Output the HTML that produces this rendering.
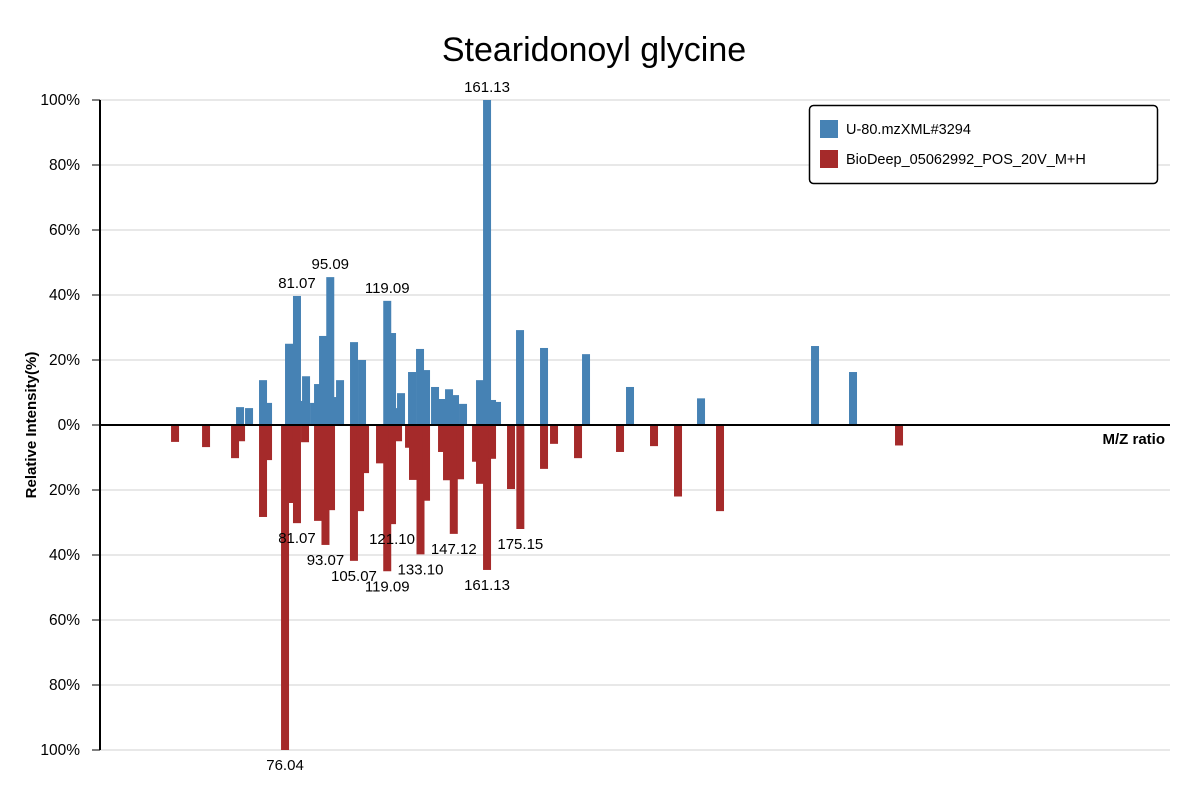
<!DOCTYPE html>
<html><head><meta charset="utf-8"><style>
html,body{margin:0;padding:0;background:#fff;}
svg{display:block;font-family:"Liberation Sans","DejaVu Sans",sans-serif;}
</style></head><body>
<svg id="chart" width="1200" height="800">
<text x="594" y="61" text-anchor="middle" font-size="34" fill="#000">Stearidonoyl glycine</text>
<g id="grid"></g><g id="bars"></g><g id="labels"></g><g id="axes"></g>
<text transform="translate(36,425) rotate(-90)" text-anchor="middle" font-size="15" font-weight="bold">Relative Intensity(%)</text>
<text x="1165" y="444" text-anchor="end" font-size="15" font-weight="bold">M/Z ratio</text>
<g>
<rect x="809.5" y="105.5" width="348" height="78" rx="4" fill="#fff" stroke="#000" stroke-width="1.5"/>
<rect x="820" y="120" width="18" height="18" fill="#4682b4"/>
<text x="846" y="134" font-size="14.5">U-80.mzXML#3294</text>
<rect x="820" y="150" width="18" height="18" fill="#a52a2a"/>
<text x="846" y="164" font-size="14.5">BioDeep_05062992_POS_20V_M+H</text>
</g>
</svg>
<script>
const sampleMz=[57.09,60.88,66.77,68.88,77.72,81.07,82.78,84.89,88.26,89.94,92.05,95.09,96.68,99.21,105.10,108.47,119.09,121.11,123.21,124.90,129.53,132.90,135.43,139.22,142.17,145.12,147.64,151.01,158.17,161.13,163.23,165.33,175.02,185.13,202.82,221.35,251.26,299.28,315.28];
const sampleInt=[5.5,5.2,13.8,6.8,25,39.7,7.4,15,6.8,12.6,27.4,45.5,8.6,13.8,25.5,20,38.2,28.3,5.2,9.8,16.3,23.4,16.9,11.7,8,11,9.2,6.5,13.8,100,7.7,7.1,29.2,23.7,21.8,11.7,8.2,24.3,16.3];
const sampleLabels=["81.07","95.09","119.09","161.13"];
const refMz=[29.71,42.77,54.98,57.51,66.77,68.88,76.04,78.15,81.07,84.46,89.94,93.07,95.41,105.07,107.63,109.74,116.05,119.09,121.10,123.64,128.27,129.95,133.10,135.43,142.17,144.27,147.12,149.75,156.49,158.17,161.13,163.23,171.23,175.15,185.13,189.34,199.45,217.14,231.46,241.57,259.26,334.66];
const refInt=[5.2,6.8,10.2,5,28.3,10.8,100,24,30.2,5.3,29.5,36.9,26.2,41.8,26.5,14.8,11.8,45,30.5,5,7,16.9,39.8,23.3,8.3,17,33.5,16.7,11.3,18.1,44.6,10.4,19.7,32,13.5,5.8,10.2,8.3,6.5,22,26.5,6.3];
const refLabels=["76.04","81.07","93.07","105.07","119.09","121.10","133.10","147.12","161.13","175.15"];
const yTicks=[100,80,60,40,20,0,-20,-40,-60,-80,-100];
const xDomain=[-1.9,448.8];

const NS="http://www.w3.org/2000/svg";
const X0=100,X1=1170,Y0=425,YS=3.25,BW=8;
const x=m=>X0+(m-xDomain[0])/(xDomain[1]-xDomain[0])*(X1-X0);
const y=v=>Y0-v*YS;
function mk(tag,attrs,parent,txt){const e=document.createElementNS(NS,tag);for(const k in attrs)e.setAttribute(k,attrs[k]);if(txt!==undefined)e.textContent=txt;parent.appendChild(e);return e;}
const grid=document.getElementById('grid'),bars=document.getElementById('bars'),labels=document.getElementById('labels'),axes=document.getElementById('axes');
yTicks.forEach(t=>{
  if(t!==0){const g=mk('line',{x1:X0,x2:X1,y1:y(t),y2:y(t),stroke:'#e0e0e0','stroke-width':1.5},grid);
  
  }
  const tk=mk('line',{x1:X0-8,x2:X0,y1:y(t),y2:y(t),stroke:'#000','stroke-width':1},axes);
  
  
  const tl=mk('text',{x:X0-20,y:y(t)+5,'text-anchor':'end','font-size':15.5},axes,Math.abs(t)+'%');
  
  
});
refMz.forEach((m,i)=>{
  const r=mk('rect',{x:x(m)-BW/2,y:Y0,width:BW,height:refInt[i]*YS,fill:'#a52a2a'},bars);
  
  
});
sampleMz.forEach((m,i)=>{
  const r=mk('rect',{x:x(m)-BW/2,y:y(sampleInt[i]),width:BW,height:sampleInt[i]*YS,fill:'#4682b4'},bars);
  
  
});
sampleLabels.forEach(s=>{
  const i=sampleMz.findIndex(m=>Math.abs(m-parseFloat(s))<0.05);
  const t=mk('text',{x:x(sampleMz[i]),y:y(sampleInt[i])-8,'text-anchor':'middle','font-size':15},labels,s);
  
  
});
refLabels.forEach(s=>{
  const i=refMz.findIndex(m=>Math.abs(m-parseFloat(s))<0.05);
  const t=mk('text',{x:x(refMz[i]),y:y(-refInt[i])+20,'text-anchor':'middle','font-size':15},labels,s);
  
  
});
const ya=mk('line',{x1:X0,x2:X0,y1:y(100),y2:y(-100),stroke:'#000','stroke-width':2},axes);


const xa=mk('line',{x1:X0,x2:X1,y1:Y0,y2:Y0,stroke:'#000','stroke-width':2},axes);


</script>
</body></html>
